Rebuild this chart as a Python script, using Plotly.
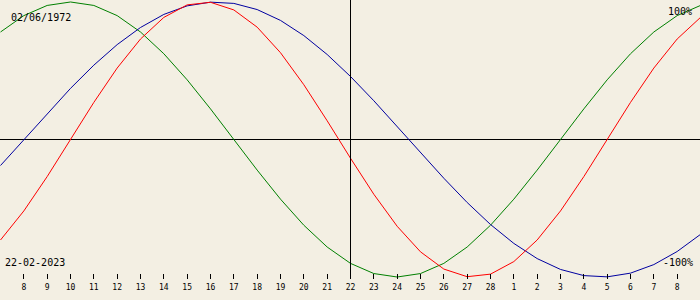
import plotly.graph_objects as go

# Day index (Feb 2023 day numbers, continuing past 28 into March)
days = [7, 8, 9, 10, 11, 12, 13, 14, 15, 16, 17, 18, 19, 20, 21, 22,
        23, 24, 25, 26, 27, 28, 29, 30, 31, 32, 33, 34, 35, 36, 37]

physical = [-0.7308, -0.5196, -0.2698, 0.0, 0.2698, 0.5196, 0.7308, 0.8879,
            0.9791, 0.9977, 0.9423, 0.8170, 0.6310, 0.3984, 0.1362, -0.1362,
            -0.3984, -0.6310, -0.8170, -0.9423, -0.9977, -0.9791, -0.8879,
            -0.7308, -0.5196, -0.2698, 0.0, 0.2698, 0.5196, 0.7308, 0.8879]

emotional = [0.7818, 0.9010, 0.9749, 1.0, 0.9749, 0.9010, 0.7818, 0.6235,
             0.4339, 0.2225, 0.0, -0.2225, -0.4339, -0.6235, -0.7818, -0.9010,
             -0.9749, -1.0, -0.9749, -0.9010, -0.7818, -0.6235, -0.4339,
             -0.2225, 0.0, 0.2225, 0.4339, 0.6235, 0.7818, 0.9010, 0.9749]

intellectual = [-0.1893, 0.0, 0.1893, 0.3717, 0.5406, 0.6901, 0.8146, 0.9096,
                0.9718, 0.9989, 0.9898, 0.9450, 0.8660, 0.7557, 0.6182, 0.4582,
                0.2817, 0.0951, -0.0951, -0.2817, -0.4582, -0.6182, -0.7557,
                -0.8660, -0.9450, -0.9898, -0.9989, -0.9718, -0.9096, -0.8146, -0.6901]

tick_days = [8, 9, 10, 11, 12, 13, 14, 15, 16, 17, 18, 19, 20, 21, 22, 23,
             24, 25, 26, 27, 28, 29, 30, 31, 32, 33, 34, 35, 36]
tick_labels = ["8", "9", "10", "11", "12", "13", "14", "15", "16", "17", "18",
               "19", "20", "21", "22", "23", "24", "25", "26", "27", "28",
               "1", "2", "3", "4", "5", "6", "7", "8"]

birth_text = "02/06/1972"
today_text = "22-02-2023"
today_day = 22

BG = "#f3efe3"
FONT = "DejaVu Sans Mono"
HALF_PX_DAYS = 0.5 * (days[-1] - days[0]) / 700.0

fig = go.Figure()
for vals, col in [(emotional, "#008000"), (intellectual, "#0000a0"), (physical, "#ff0000")]:
    fig.add_trace(go.Scatter(x=days, y=vals, mode="lines",
                             line=dict(color=col, width=1), hoverinfo="skip",
                             showlegend=False))

fig.update_layout(
    width=700, height=300,
    margin=dict(l=0, r=0, t=0, b=21, pad=0),
    paper_bgcolor=BG, plot_bgcolor=BG,
    showlegend=False,
    xaxis=dict(range=[days[0] - HALF_PX_DAYS, days[-1] - HALF_PX_DAYS],
               showgrid=False, zeroline=False,
               tickmode="array", tickvals=tick_days, ticktext=tick_labels,
               ticks="inside", ticklen=5, tickwidth=1, tickcolor="black",
               ticklabelstandoff=2,
               tickfont=dict(family=FONT, size=8, color="black"),
               showline=False, fixedrange=True),
    yaxis=dict(range=[-1.0145, 1.0145], showgrid=False, zeroline=True,
               zerolinecolor="black", zerolinewidth=1, showticklabels=False,
               ticks="", showline=False, fixedrange=True),
    font=dict(family=FONT, color="black"),
)

fig.add_vline(x=today_day, line=dict(color="black", width=1))

fig.add_annotation(text=birth_text, xref="paper", yref="paper",
                   x=10/700, y=1-17/279, xanchor="left", yanchor="middle",
                   showarrow=False, font=dict(size=10), borderpad=0)
fig.add_annotation(text=today_text, xref="paper", yref="paper",
                   x=4/700, y=1-262/279, xanchor="left", yanchor="middle",
                   showarrow=False, font=dict(size=10), borderpad=0)
fig.add_annotation(text="100%", xref="paper", yref="paper",
                   x=693/700, y=1-12/279, xanchor="right", yanchor="middle",
                   showarrow=False, font=dict(size=10), borderpad=0)
fig.add_annotation(text="-100%", xref="paper", yref="paper",
                   x=694/700, y=1-262/279, xanchor="right", yanchor="middle",
                   showarrow=False, font=dict(size=10), borderpad=0)

fig.write_html("out.html")
